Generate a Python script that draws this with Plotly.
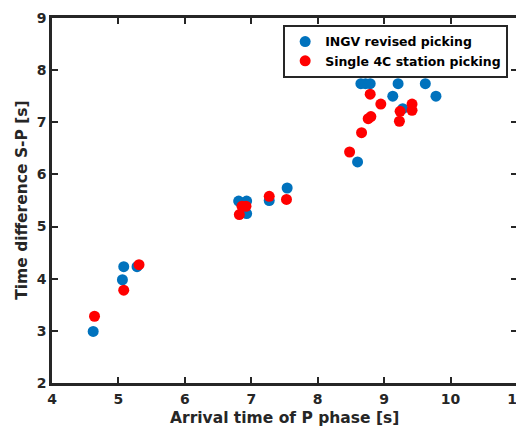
import plotly.graph_objects as go

# INGV revised picking (blue)
ingv_x = [4.62, 5.06, 5.08, 5.28, 6.81, 6.93, 6.93, 7.27, 7.54, 8.60,
          8.65, 8.72, 8.79, 9.21, 9.62, 9.13, 9.78, 9.28, 8.76, 9.36]
ingv_y = [2.99, 3.98, 4.23, 4.23, 5.49, 5.49, 5.25, 5.50, 5.74, 6.24,
          7.74, 7.74, 7.74, 7.74, 7.74, 7.50, 7.50, 7.26, 8.24, 8.24]

# Single 4C station picking (red)
c4_x = [4.64, 5.08, 5.31, 6.82, 6.86, 6.92, 7.27, 7.53, 8.48, 8.66,
        8.76, 8.80, 8.79, 8.95, 9.24, 9.23, 9.42, 9.42, 10.11]
c4_y = [3.28, 3.78, 4.27, 5.23, 5.39, 5.39, 5.58, 5.52, 6.43, 6.80,
        7.07, 7.11, 7.54, 7.35, 7.21, 7.02, 7.35, 7.23, 8.25]

x_ticks = [4, 5, 6, 7, 8, 9, 10, 11]
y_ticks = [2, 3, 4, 5, 6, 7, 8, 9]

fig = go.Figure()
fig.add_trace(go.Scatter(x=ingv_x, y=ingv_y, mode="markers", name="INGV revised picking",
                         marker=dict(color="#0072BD", size=11, line=dict(width=0))))
fig.add_trace(go.Scatter(x=c4_x, y=c4_y, mode="markers", name="Single 4C station picking",
                         marker=dict(color="#FF0000", size=11, line=dict(width=0))))

axis_common = dict(
    showgrid=False, zeroline=False, showline=True, mirror="ticks",
    linecolor="#262626", linewidth=2.5, ticks="inside", ticklen=6, tickwidth=2,
    tickcolor="#262626", automargin=False,
    tickfont=dict(family="DejaVu Sans", size=14, color="#262626", weight="bold"),
)
fig.update_xaxes(range=[4, 11], tickvals=x_ticks, ticktext=[str(v) for v in x_ticks],
                 ticklabelstandoff=1, **axis_common)
fig.update_yaxes(range=[2, 9], tickvals=y_ticks, ticktext=[str(v) for v in y_ticks],
                 ticklabelstandoff=0, **axis_common)

title_font = dict(family="DejaVu Sans", size=15.5, color="#262626", weight="bold")
fig.add_annotation(text="Arrival time of P phase [s]", xref="paper", yref="paper",
                   x=0.5, y=-0.096, xanchor="center", yanchor="middle",
                   showarrow=False, font=title_font)
fig.add_annotation(text="Time difference S-P [s]", xref="paper", yref="paper",
                   x=-0.066, y=0.5, xanchor="center", yanchor="middle", textangle=-90,
                   showarrow=False, font=title_font)

fig.update_layout(
    width=524, height=428,
    margin=dict(l=44, r=15, t=10, b=53),
    plot_bgcolor="white", paper_bgcolor="white",
    showlegend=True,
    legend=dict(x=0.981, y=0.981, xanchor="right", yanchor="top",
                bgcolor="white", bordercolor="#262626", borderwidth=2,
                font=dict(family="DejaVu Sans", size=12.5, color="black", weight="bold"),
                itemwidth=30, tracegroupgap=0),
)

fig.write_html("out.html")
